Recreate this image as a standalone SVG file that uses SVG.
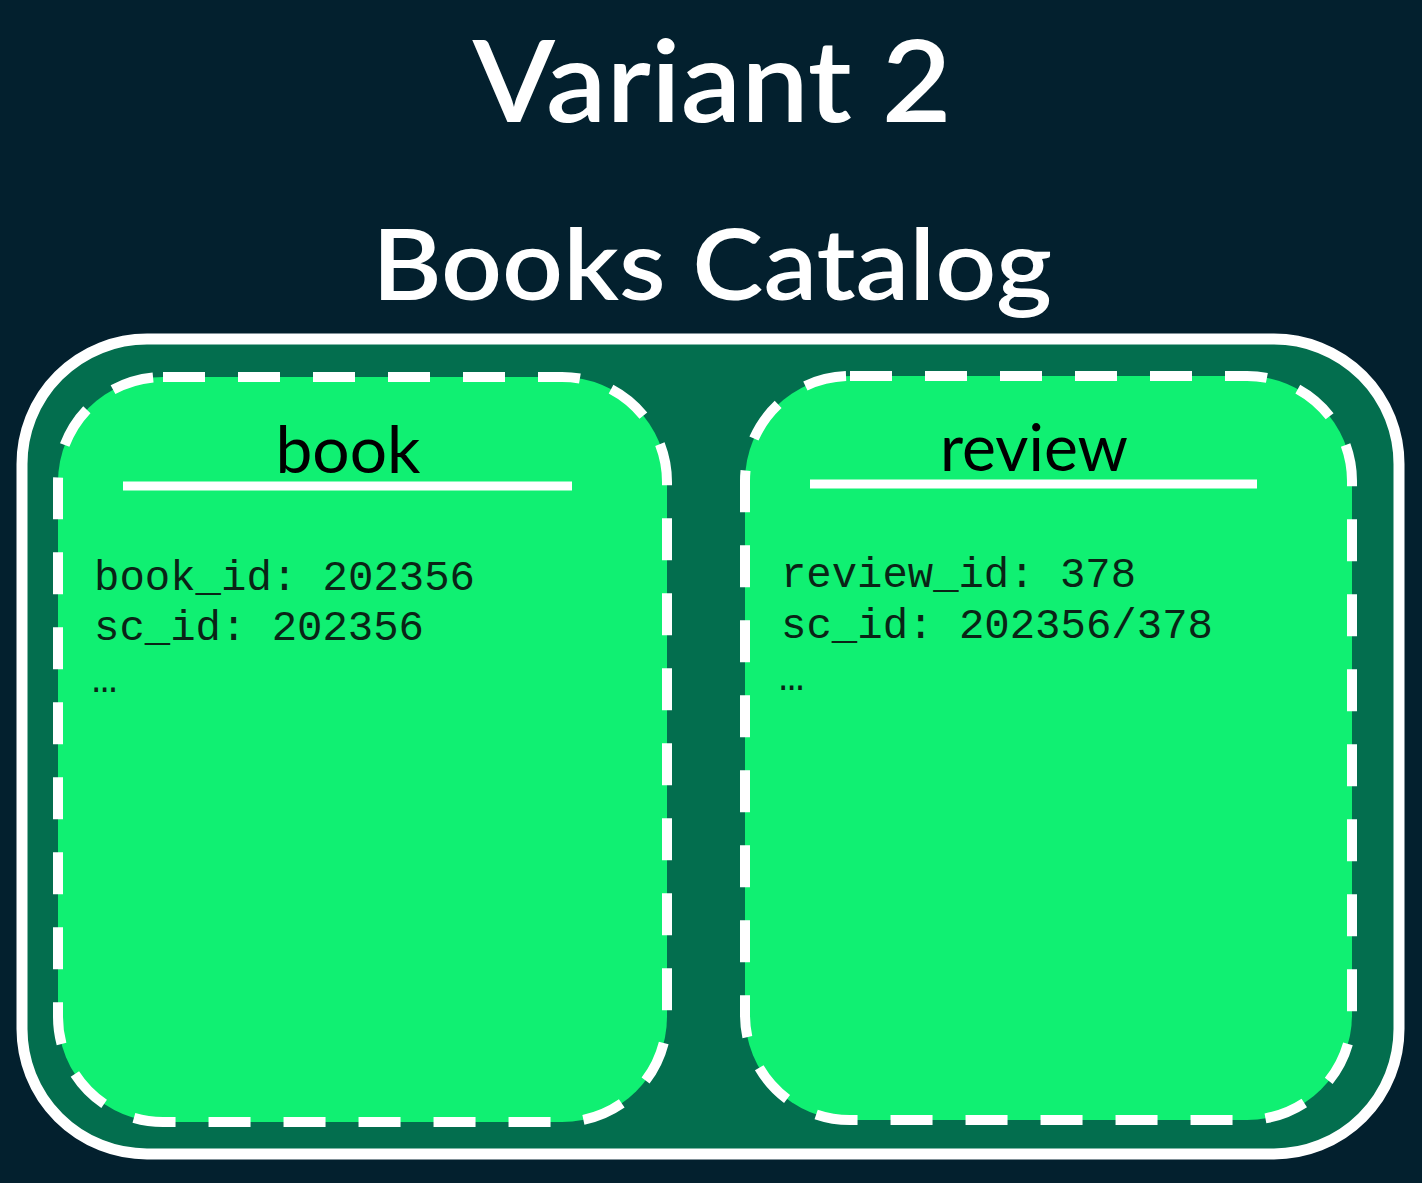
<svg xmlns="http://www.w3.org/2000/svg" width="1422" height="1183" viewBox="0 0 1422 1183">
  <style>
    .title { font-family: Lato, "Noto Sans", "Liberation Sans", sans-serif; font-weight: 600; fill: #ffffff; text-anchor: middle; }
    .head { font-family: Lato, "Noto Sans", "Liberation Sans", sans-serif; font-weight: 400; font-size: 66px; fill: #000000; text-anchor: middle; }
    .field { font-family: "Liberation Mono", "DejaVu Sans Mono", monospace; font-size: 42px; fill: #0a2416; }
    .table { fill: #10f072; stroke: #ffffff; stroke-width: 10; stroke-dasharray: 42 33; }
    .rule { stroke: #ffffff; stroke-width: 9; }
  </style>
  <rect width="1422" height="1183" fill="#03202e"/>

  <text class="title" x="712" y="122" font-size="114" textLength="479" lengthAdjust="spacingAndGlyphs">Variant 2</text>
  <text class="title" x="712" y="300" font-size="98" textLength="680" lengthAdjust="spacingAndGlyphs">Books Catalog</text>

  <!-- catalog container -->
  <g id="catalog">
    <rect x="22" y="339" width="1377" height="815" rx="125" fill="#036e4e" stroke="#ffffff" stroke-width="11"/>
  </g>

  <!-- book collection -->
  <g id="book">
    <rect class="table" x="58" y="377" width="609" height="745" rx="105"/>
    <text class="head" x="348" y="473" textLength="145" lengthAdjust="spacingAndGlyphs">book</text>
    <line class="rule" x1="123" y1="486" x2="572" y2="486"/>
    <text class="field" x="94" y="590" textLength="381" lengthAdjust="spacingAndGlyphs">book_id: 202356</text>
    <text class="field" x="94" y="640" textLength="330" lengthAdjust="spacingAndGlyphs">sc_id: 202356</text>
    <text class="field" x="92" y="692">…</text>
  </g>

  <!-- review collection -->
  <g id="review">
    <rect class="table" x="745" y="376" width="607" height="744" rx="105"/>
    <text class="head" x="1034" y="471" textLength="188" lengthAdjust="spacingAndGlyphs">review</text>
    <line class="rule" x1="810" y1="484" x2="1257" y2="484"/>
    <text class="field" x="781" y="587" textLength="355" lengthAdjust="spacingAndGlyphs">review_id: 378</text>
    <text class="field" x="781" y="638" textLength="432" lengthAdjust="spacingAndGlyphs">sc_id: 202356/378</text>
    <text class="field" x="779" y="690">…</text>
  </g>

  <g id="connectors"></g>
</svg>
